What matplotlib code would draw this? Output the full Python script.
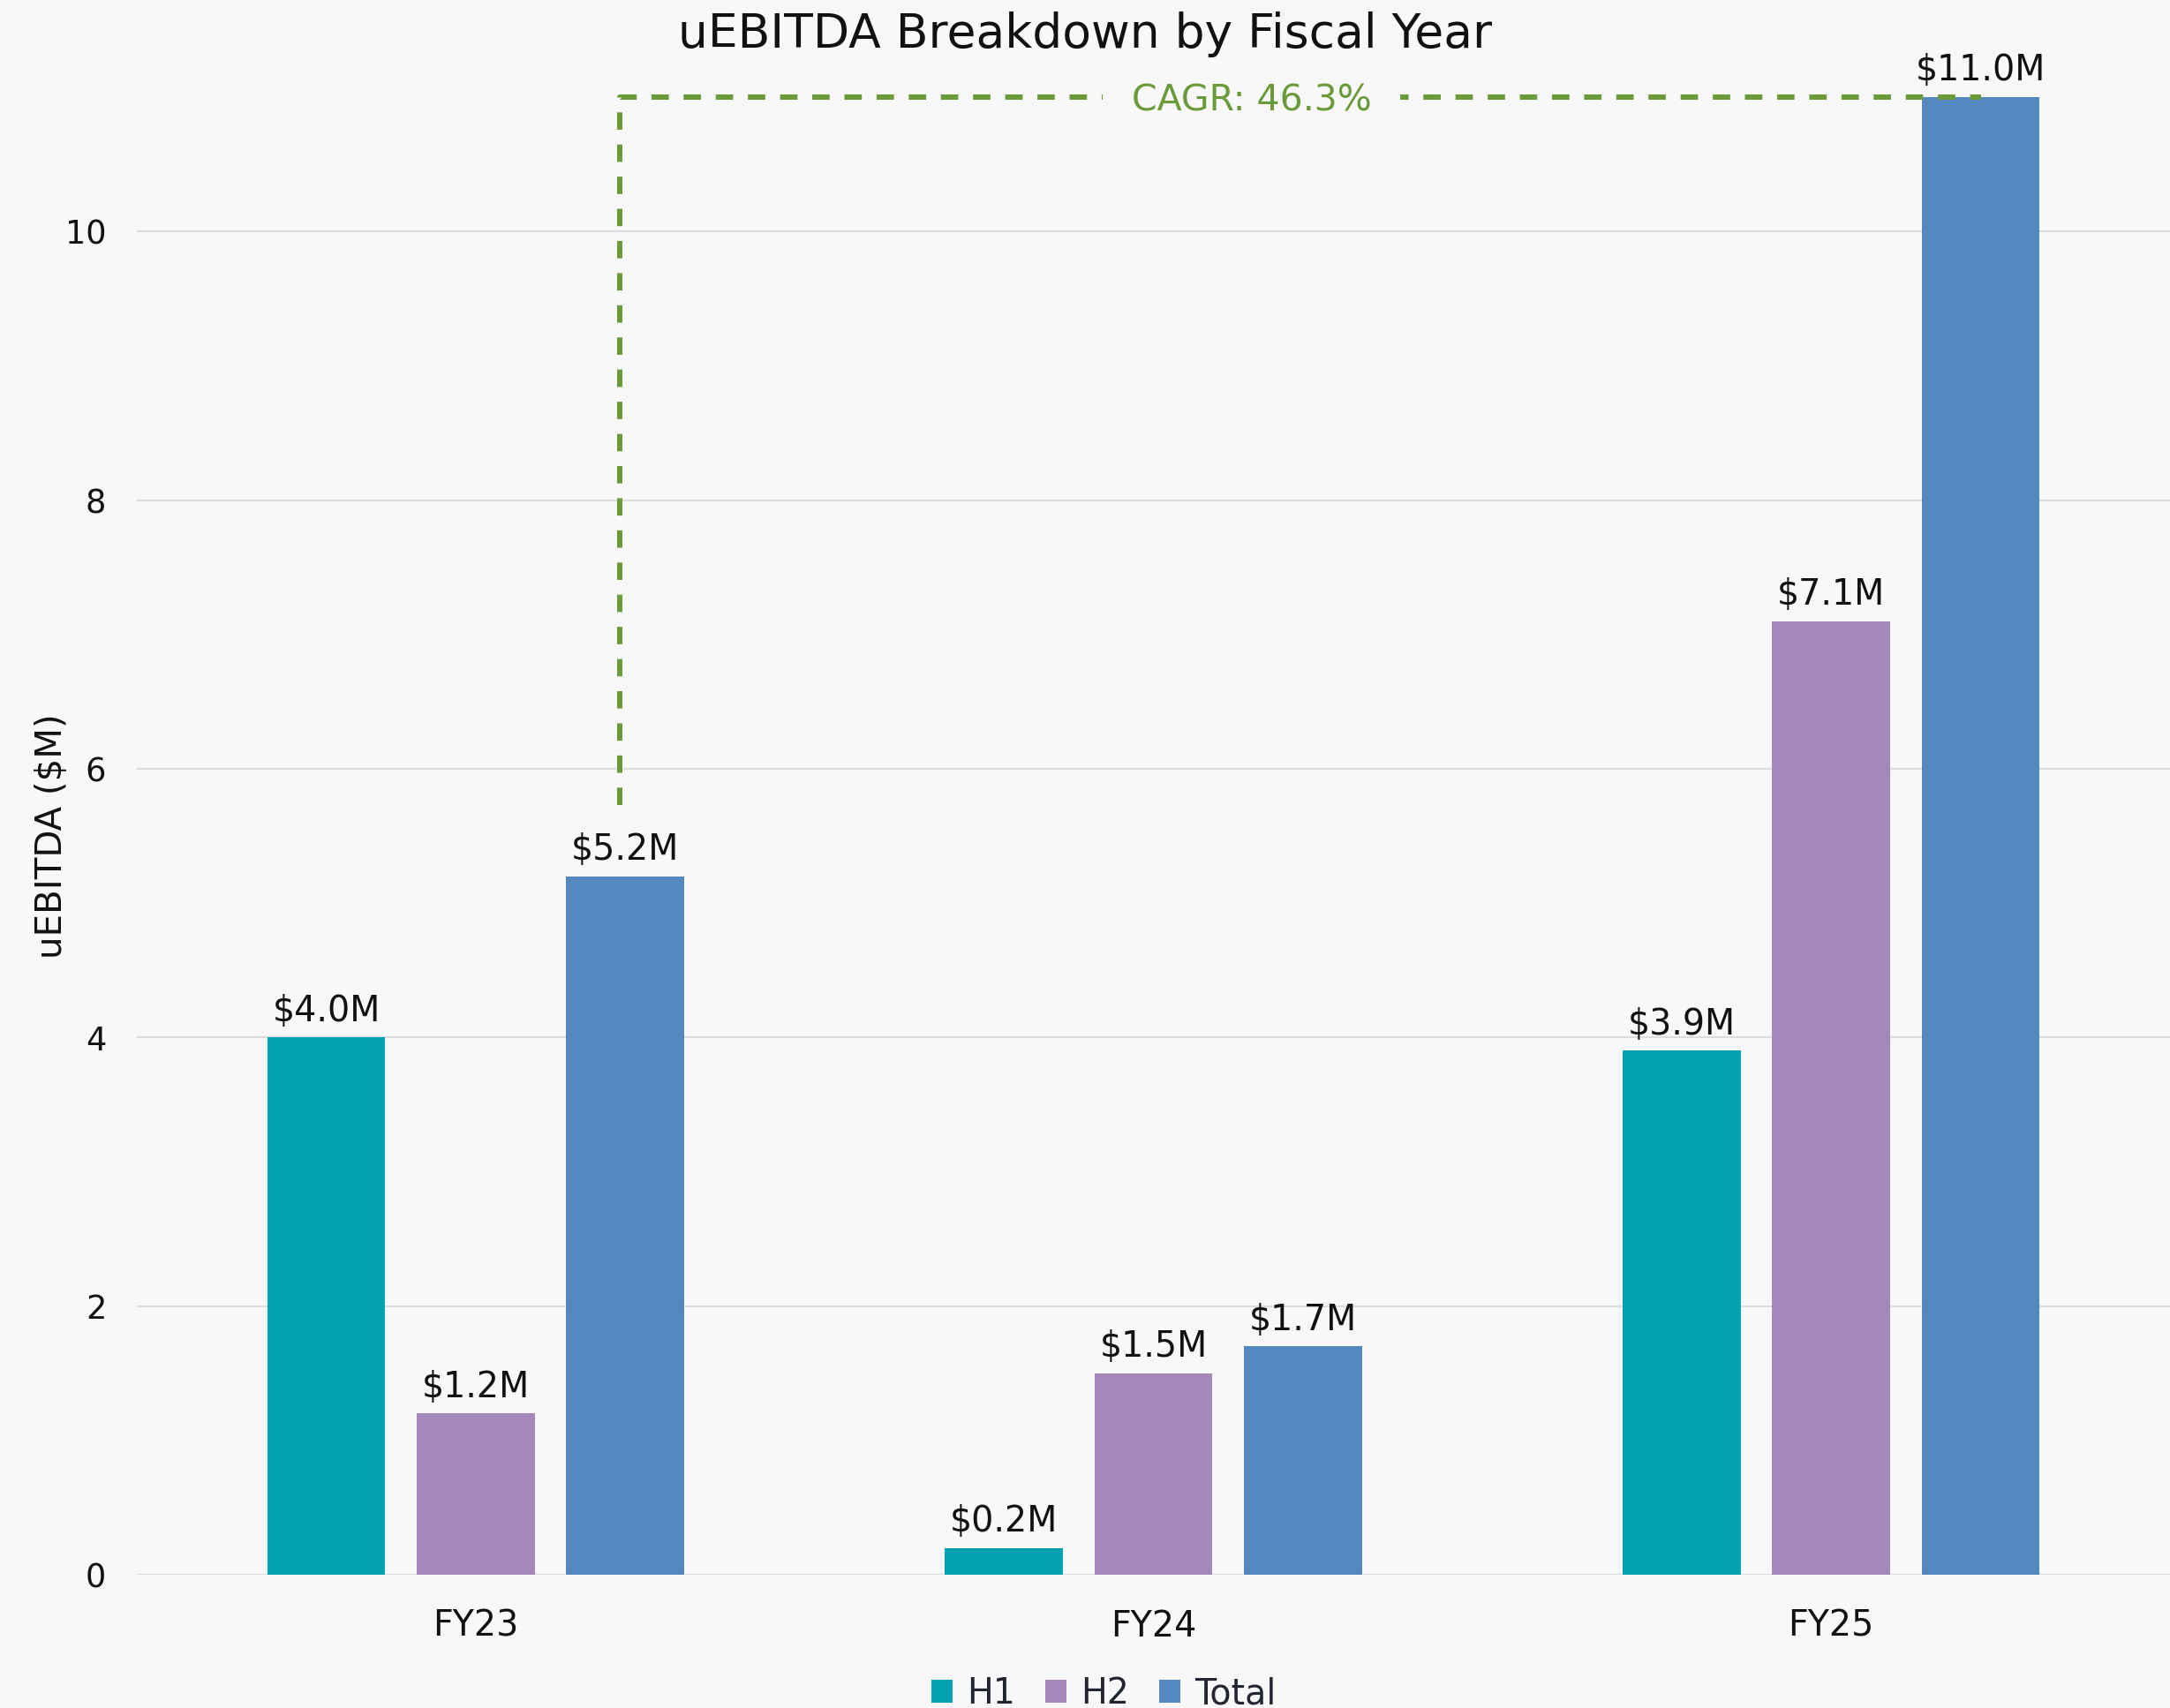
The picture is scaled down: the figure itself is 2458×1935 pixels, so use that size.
import matplotlib
matplotlib.use("Agg")
import matplotlib.pyplot as plt
import numpy as np

plt.rcParams['font.family'] = ['DejaVu Sans']

years = ["FY23", "FY24", "FY25"]
series = ["H1", "H2", "Total"]
h1 = [4.0, 0.2, 3.9]
h2 = [1.2, 1.5, 7.1]
total = [5.2, 1.7, 11.0]
cagr_label = "CAGR: 46.3%"
colors = ["#00A1B0", "#A488BA", "#5489BF"]
green = "#6A9A3A"
bg = "#F8F8F8"

W, H = 2458, 1935
y0_px, y11_px = 1784, 110
fig = plt.figure(figsize=(W / 100, H / 100), dpi=100, facecolor=bg)
ax = fig.add_axes([155 / W, (H - y0_px) / H, (W - 155) / W, (y0_px - y11_px) / H])
ax.set_facecolor(bg)

x = np.arange(len(years))
width = 0.1745
step = 0.2206
data = [h1, h2, total]
for i, (vals, c, name) in enumerate(zip(data, colors, series)):
    xs = x + (i - 1) * step
    ax.bar(xs, vals, width=width, color=c, label=name, zorder=3)
    for xi, v in zip(xs, vals):
        ax.annotate(f"${v:.1f}M", (xi, v), xytext=(0, 13.5), textcoords="offset points",
                    ha="center", va="baseline", fontsize=28.5, color="#111111",
                    annotation_clip=False)

ax.set_xlim(-0.5, 2.5)
ax.set_ylim(0, 11.0)
ax.set_yticks([0, 2, 4, 6, 8, 10])
ax.set_xticks(x)
ax.set_xticklabels(years)
ax.tick_params(axis="both", length=0, colors="#111111")
ax.tick_params(axis="x", pad=28, labelsize=28.5)
ax.tick_params(axis="y", pad=25, labelsize=26.5)
ax.grid(axis="y", color="#DCDCE0", linewidth=1.5, zorder=0)
for s in ax.spines.values():
    s.set_visible(False)
ax.set_ylabel("uEBITDA ($M)", fontsize=29, color="#111111", labelpad=-4)

# CAGR bracket
x0 = x[0] + step - 0.008
x1 = x[2] + step
ax.plot([x0, x0, x1], [total[0] + 0.53, total[2], total[2]], color=green, lw=4.3,
        ls=(0, (3.3, 2.8)), zorder=4, clip_on=False)
ax.annotate(cagr_label, (1.145, total[2]), xytext=(0, -11), textcoords="offset points",
            ha="center", va="baseline", fontsize=29.5, color=green, zorder=5,
            annotation_clip=False,
            bbox=dict(facecolor=bg, edgecolor="none", boxstyle="square,pad=0.8"))

fig.text(0.5, 1 - 39 / H, "uEBITDA Breakdown by Fiscal Year", ha="center", va="center",
         fontsize=38.5, color="#111111")

leg = fig.legend(loc="center", bbox_to_anchor=(1250 / W, 16 / H), ncol=3, frameon=False,
                 fontsize=28.5, handlelength=0.62, handleheight=0.62, handletextpad=0.4,
                 columnspacing=0.85)
for t in leg.get_texts():
    t.set_color("#222630")

fig.savefig("out.png", dpi=100, facecolor=bg)
